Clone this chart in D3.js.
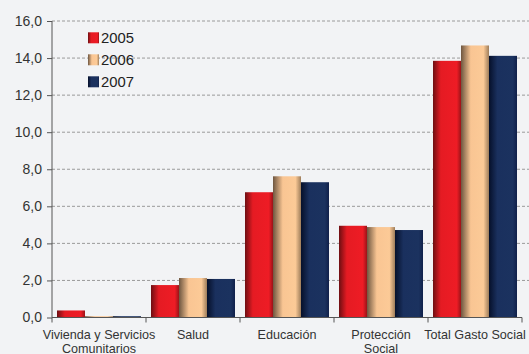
<!DOCTYPE html>
<html><head><meta charset="utf-8">
<script src="https://cdn.jsdelivr.net/npm/d3@7"></script>
<style>body{margin:0;background:#f2f3f5;}svg{display:block;}</style>
</head><body>
<script>
const categories = [["Vivienda y Servicios","Comunitarios"],["Salud"],["Educación"],["Protección","Social"],["Total Gasto Social"]];
const series = ["2005","2006","2007"];
const v2005 = [0.38, 1.75, 6.76, 4.95, 13.85];
const v2006 = [0.07, 2.13, 7.62, 4.88, 14.68];
const v2007 = [0.07, 2.08, 7.30, 4.72, 14.12];
const yTicks = [0,2,4,6,8,10,12,14,16];

const W=529,H=354;
const svg=d3.select("body").append("svg").attr("width",W).attr("height",H);
svg.append("rect").attr("width",W).attr("height",H).attr("fill","#f2f3f5");
const m={l:52,t:21,r:7,b:36};
const x=d3.scaleBand().domain(d3.range(categories.length)).range([m.l,522]).paddingInner(0).paddingOuter(0);
const y=d3.scaleLinear().domain([0,16]).range([317.5,21]);
const xs=d3.scaleBand().domain(series).range([5,x.bandwidth()-5]);
const FONT="Liberation Sans, Arial, sans-serif";

const defs=svg.append("defs");
const grads=[
 {id:"g0",stops:[[0,"#6e0e12"],[0.28,"#e51b23"],[0.85,"#ee1c25"],[1,"#9a1318"]]},
 {id:"g1",stops:[[0,"#6e5640"],[0.35,"#f9c593"],[0.8,"#fcca97"],[1,"#9e7d5a"]]},
 {id:"g2",stops:[[0,"#06102a"],[0.3,"#1a305e"],[0.85,"#1b325f"],[1,"#10204a"]]}
];
grads.forEach(g=>{const lg=defs.append("linearGradient").attr("id",g.id).attr("x1","0").attr("x2","1").attr("y1","0").attr("y2","0");
 g.stops.forEach(s=>lg.append("stop").attr("offset",s[0]).attr("stop-color",s[1]));});

// grid
svg.append("g").selectAll("line").data(yTicks.filter(d=>d>0)).join("line")
 .attr("x1",m.l).attr("x2",W).attr("y1",d=>y(d)).attr("y2",d=>y(d))
 .attr("stroke","#9a9a9a").attr("stroke-width",1).attr("stroke-dasharray","3,2");

const data=[v2005,v2006,v2007];
series.forEach((s,si)=>{
 svg.append("g").selectAll("rect").data(data[si]).join("rect")
  .attr("x",(d,i)=>x(i)+xs(s)).attr("width",xs.bandwidth())
  .attr("y",d=>y(d)).attr("height",d=>y(0)-y(d)).attr("fill",`url(#g${si})`);
});

// y axis
const ya=svg.append("g").attr("transform",`translate(${m.l},0)`)
 .call(d3.axisLeft(y).tickValues(yTicks).tickSize(5).tickPadding(5).tickFormat(d=>d.toFixed(1).replace(".",",")));
ya.selectAll("text").attr("font-family",FONT).attr("font-size",14).attr("fill","#333");
ya.selectAll("line,path").attr("stroke","#555");
ya.select("path").attr("d",`M0,${y(0)}V${y(16)}`);

// x axis
const xa=svg.append("g").attr("transform",`translate(0,${y(0)})`);
xa.append("line").attr("x1",m.l).attr("x2",522).attr("stroke","#555");
xa.selectAll("line.t").data(d3.range(categories.length+1)).join("line").attr("class","t")
 .attr("x1",i=>m.l+i*x.bandwidth()).attr("x2",i=>m.l+i*x.bandwidth()).attr("y1",0).attr("y2",5).attr("stroke","#555");
const lbl=xa.selectAll("text").data(categories).join("text")
 .attr("x",(d,i)=>x(i)+x.bandwidth()/2).attr("y",21.5)
 .attr("text-anchor","middle").attr("font-family",FONT).attr("font-size",12.6).attr("fill","#333");
lbl.each(function(d){const t=d3.select(this);d.forEach((line,j)=>t.append("tspan").attr("x",t.attr("x")).attr("dy",j?14:0).text(line));});

// legend
const lg=svg.append("g");
series.forEach((s,i)=>{
 const gy=32.3+i*22;
 lg.append("rect").attr("x",88).attr("y",gy).attr("width",11).attr("height",11).attr("fill",`url(#g${i})`);
 lg.append("text").attr("x",101).attr("y",gy+10.5).attr("font-family",FONT).attr("font-size",14.8).attr("fill","#222").text(s);
});
</script>
</body></html>
